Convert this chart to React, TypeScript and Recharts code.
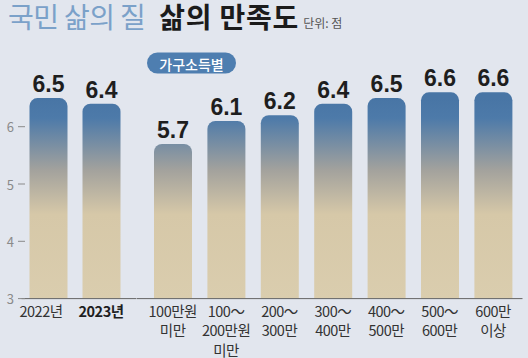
import React from 'react';
import { BarChart, Bar, XAxis, YAxis, LabelList } from 'recharts';

const yearCategories = ['2022년', '2023년'];
const yearValues = [6.5, 6.4];
const incomeCategories = [
  '100만원\n미만',
  '100～\n200만원\n미만',
  '200～\n300만',
  '300～\n400만',
  '400～\n500만',
  '500～\n600만',
  '600만\n이상',
];
const incomeValues = [5.7, 6.1, 6.2, 6.4, 6.5, 6.6, 6.6];
const yTicks = [3, 4, 5, 6];
const yDomain = [3, 7];

const yearData = yearCategories.map((category, i) => ({ category, value: yearValues[i] }));
const incomeData = incomeCategories.map((category, i) => ({ category, value: incomeValues[i] }));

const BG = '#e2e6ee';
const KFONT = "'Noto Sans CJK KR', 'Noto Sans', sans-serif";
const NUMFONT = "'Liberation Sans Narrow', 'Arial Narrow', 'Liberation Sans', sans-serif";

const makeXTick = (shiftFirst: number) => (props: any) => {
  const { x: x0, y, payload, index } = props;
  const x = index === 0 ? x0 + shiftFirst : x0;
  const lines = String(payload.value).split('\n');
  const bold = payload.value === '2023년';
  return (
    <text
      x={x}
      y={y + 18}
      textAnchor="middle"
      fontSize={14.5}
      fontFamily={KFONT}
      fontWeight={bold ? 700 : 400}
      fill={bold ? '#1e1e1e' : '#333'}
      letterSpacing={-0.5}
    >
      {lines.map((l, i) => (
        <tspan key={i} x={x} dy={i === 0 ? 0 : 19.5}>
          {l}
        </tspan>
      ))}
    </text>
  );
};

const YearTick = makeXTick(-7);
const IncomeTick = makeXTick(0);

const YTick = (props: any) => {
  const { y, payload } = props;
  return (
    <g>
      <text x={14} y={y} textAnchor="end" dominantBaseline="central" fontSize={13} fontFamily={KFONT} fill="#8a8a8a">
        {payload.value}
      </text>
      <line x1={18} x2={25} y1={y} y2={y} stroke="#8a8a8a" strokeWidth={1} />
    </g>
  );
};

const Grad = ({ id }: { id: string }) => (
  <defs>
    <linearGradient id={id} gradientUnits="userSpaceOnUse" x1="0" y1="98" x2="0" y2="298.6">
      <stop offset="0" stopColor="#4875a5" />
      <stop offset="0.1" stopColor="#4d7aa9" />
      <stop offset="0.36" stopColor="#a3a29d" />
      <stop offset="0.58" stopColor="#d6c8a8" />
      <stop offset="1" stopColor="#dacdae" />
    </linearGradient>
  </defs>
);

const MARGIN_TOP = 69.4;
const XAXIS_H = 358 - 298.6;

const labelFmt = (v: any) => Number(v).toFixed(1);

export default function App() {
  return (
    <div style={{ position: 'absolute', left: 0, top: 0, width: 528, height: 358, background: BG, overflow: 'hidden' }}>
      <div style={{ position: 'absolute', left: 0, top: 0 }}>
        <BarChart width={136.5} height={358} data={yearData} margin={{ top: MARGIN_TOP, right: 0, bottom: 0, left: 0 }} barCategoryGap={0}>
          <Grad id="gradYear" />
          <XAxis
            dataKey="category"
            height={XAXIS_H}
            padding={{ left: 0, right: 9 }}
            tickLine={false}
            tickSize={0}
            tickMargin={0}
            axisLine={{ stroke: '#666', strokeWidth: 1 }}
            tick={<YearTick />}
            interval={0}
          />
          <YAxis
            domain={yDomain}
            ticks={yTicks}
            width={21.5}
            axisLine={false}
            tickLine={false}
            tick={<YTick />}
            allowDataOverflow
          />
          <Bar dataKey="value" barSize={38} fill="url(#gradYear)" radius={[8, 8, 0, 0]} isAnimationActive={false}>
            <LabelList
              dataKey="value"
              position="top"
              offset={6}
              formatter={labelFmt}
              style={{ fontSize: 23, fontWeight: 700, fontFamily: NUMFONT, fill: '#1e1e1e' }}
            />
          </Bar>
        </BarChart>
      </div>
      <div style={{ position: 'absolute', left: 136.5, top: 0 }}>
        <BarChart width={391.5} height={358} data={incomeData} margin={{ top: MARGIN_TOP, right: 6, bottom: 0, left: 0 }} barCategoryGap={0}>
          <Grad id="gradIncome" />
          <XAxis
            dataKey="category"
            height={XAXIS_H}
            padding={{ left: 9, right: 2.7 }}
            tickLine={false}
            tickSize={0}
            tickMargin={0}
            axisLine={{ stroke: '#666', strokeWidth: 1 }}
            tick={<IncomeTick />}
            interval={0}
          />
          <YAxis domain={yDomain} ticks={yTicks} width={0} hide allowDataOverflow />
          <Bar dataKey="value" barSize={38} fill="url(#gradIncome)" radius={[8, 8, 0, 0]} isAnimationActive={false}>
            <LabelList
              dataKey="value"
              position="top"
              offset={6}
              formatter={labelFmt}
              style={{ fontSize: 23, fontWeight: 700, fontFamily: NUMFONT, fill: '#1e1e1e' }}
            />
          </Bar>
        </BarChart>
      </div>
      <svg width={528} height={358} style={{ position: 'absolute', left: 0, top: 0, pointerEvents: 'none' }}>
        <text x={8} y={28} fontFamily={KFONT} fontSize={28}>
          <tspan fill="#7ba1c9" letterSpacing={-0.6}>국민 삶의 질</tspan>
          <tspan dx={14} fill="#1b1b1b" fontWeight={700} letterSpacing={0.8}>삶의 만족도</tspan>
          <tspan dx={4} fill="#555" fontSize={12} letterSpacing={0}>단위: 점</tspan>
        </text>
        <rect x={147} y={52.5} width={89} height={21} rx={10.5} fill="#4e7eb0" />
        <text x={191.5} y={63.5} textAnchor="middle" dominantBaseline="central" fontFamily={KFONT} fontSize={14} fontWeight={500} fill="#fff">
          가구소득별
        </text>
      </svg>
    </div>
  );
}
